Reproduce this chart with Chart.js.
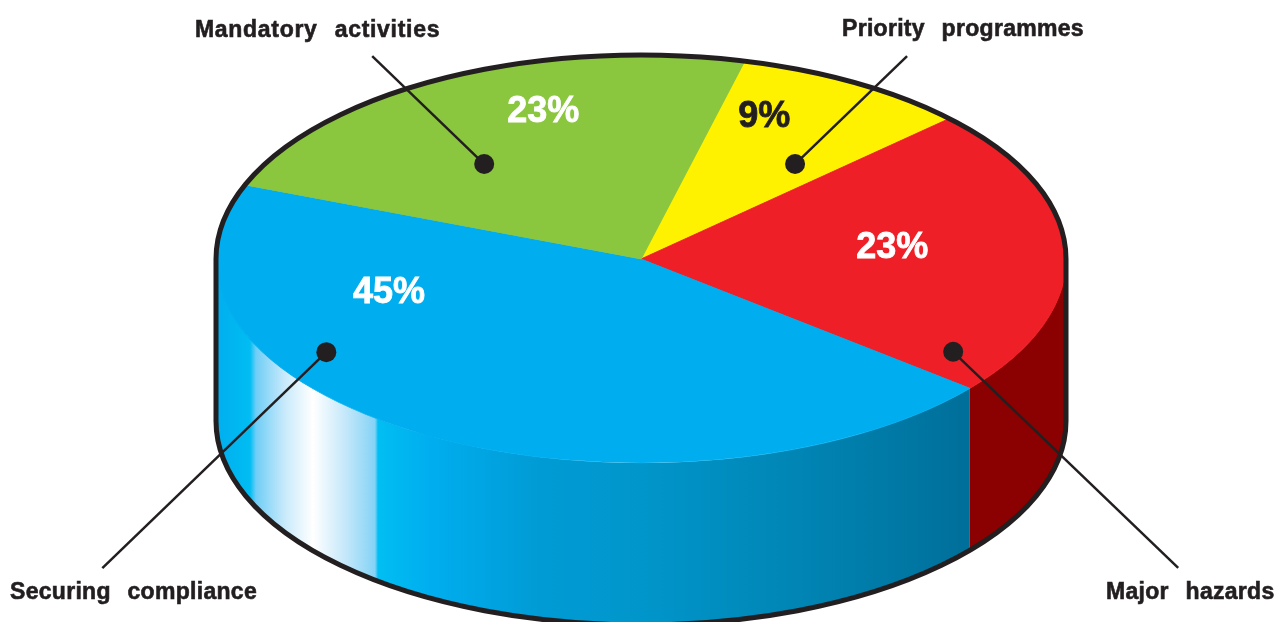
<!DOCTYPE html>
<html lang="en">
<head>
    <meta charset="UTF-8">
    <title>Pie chart</title>
    <script src="https://cdn.jsdelivr.net/npm/chart.js"></script>
    <style>
        html, body { margin: 0; padding: 0; background: #fff; overflow: hidden; }
        canvas { display: block; }
    </style>
</head>
<body>
    <canvas id="pieChart" width="1276" height="622"></canvas>

    <script>
// slices run clockwise, starting from the green/yellow edge
const categories = ['Priority programmes', 'Major hazards', 'Securing compliance', 'Mandatory activities'];
const shares = [9, 23, 45, 23];

const topColours = ['#FFF200', '#EE1F27', '#00AEEF', '#8BC63F'];
const percentColours = ['#231F20', '#FFFFFF', '#FFFFFF', '#FFFFFF'];

// where the drum sits on the page
const drum = { cx: 641, cy: 259, rx: 425, ry: 204, depth: 162, rotation: 14.1 };
const ink = '#231F20';

// t = how far along the slice, r = fraction of the radius
const percentSpots = [{ t: 0.25, r: 0.767 }, { t: 0.446, r: 0.595 }, { t: 0.78, r: 0.612 }, { t: 0.62, r: 0.77 }];
const dotSpots = [{ t: 0.735, r: 0.59 }, { t: 0.909, r: 0.864 }, { t: 0.673, r: 0.87 }, { t: 0.366, r: 0.594 }];
// leader end, relative to the dot
const leaderEnds = [[112, -108], [225, 216], [-224, 216], [-112, -108]];
// label left edge and baseline
const labelSpots = [[842, 36], [1106, 599], [10, 599], [195, 37]];
// the original type is a bit wider than Liberation, Mandatory most of all
const labelTracking = ['0.3px', '0.3px', '0.3px', '0.7px'];

// blue wall shading, x on the page and colour
const blueWallStops = [
    [216, '#00AEEF'], [250, '#00BDF2'], [256, '#6FCEF6'], [285, '#C9EAFB'], [313, '#FFFFFF'],
    [345, '#C5E8FA'], [375, '#84D3F6'], [378, '#00BEF2'], [430, '#00AEEF'], [540, '#009BD5'],
    [640, '#0096CB'], [800, '#0085B4'], [968, '#006F9A']
];
const redWall = '#8B0000';

function slicePoint(arc, spot) {
    const a = arc.startAngle + spot.t * (arc.endAngle - arc.startAngle);
    return {
        x: drum.cx + drum.rx * spot.r * Math.cos(a),
        y: drum.cy + drum.ry * spot.r * Math.sin(a)
    };
}

function wallFill(ctx) {
    const x0 = blueWallStops[0][0];
    const x1 = blueWallStops[blueWallStops.length - 1][0];
    const g = ctx.createLinearGradient(x0, 0, x1, 0);
    blueWallStops.forEach(s => g.addColorStop((s[0] - x0) / (x1 - x0), s[1]));
    return g;
}

const drumPlugin = {
    id: 'drum',
    beforeDatasetsDraw(chart) {
        const ctx = chart.ctx;
        const arcs = chart.getDatasetMeta(0).data;

        // side wall of every slice that faces the viewer
        arcs.forEach((arc, i) => {
            const a0 = Math.max(arc.startAngle, 0);
            const a1 = Math.min(arc.endAngle, Math.PI);
            if (a1 <= a0) return;
            ctx.beginPath();
            ctx.ellipse(drum.cx, drum.cy, drum.rx, drum.ry, 0, a0, a1);
            ctx.ellipse(drum.cx, drum.cy + drum.depth, drum.rx, drum.ry, 0, a1, a0, true);
            ctx.closePath();
            ctx.fillStyle = i === 2 ? wallFill(ctx) : redWall;
            ctx.fill();
        });

        // squash the round pie into the drum top
        const arc = arcs[0];
        ctx.save();
        ctx.translate(drum.cx, drum.cy);
        ctx.scale(drum.rx / arc.outerRadius, drum.ry / arc.outerRadius);
        ctx.translate(-arc.x, -arc.y);
    },
    afterDatasetsDraw(chart) {
        const ctx = chart.ctx;
        ctx.restore();

        const arcs = chart.getDatasetMeta(0).data;

        // outline, the front edge of the top stays open
        ctx.strokeStyle = ink;
        ctx.lineWidth = 5;
        ctx.beginPath();
        ctx.ellipse(drum.cx, drum.cy, drum.rx, drum.ry, 0, Math.PI, 2 * Math.PI);
        ctx.lineTo(drum.cx + drum.rx, drum.cy + drum.depth);
        ctx.ellipse(drum.cx, drum.cy + drum.depth, drum.rx, drum.ry, 0, 0, Math.PI);
        ctx.closePath();
        ctx.stroke();

        // leaders and dots
        arcs.forEach((arc, i) => {
            const p = slicePoint(arc, dotSpots[i]);
            ctx.strokeStyle = ink;
            ctx.lineWidth = 2.5;
            ctx.beginPath();
            ctx.moveTo(p.x, p.y);
            ctx.lineTo(p.x + leaderEnds[i][0], p.y + leaderEnds[i][1]);
            ctx.stroke();
            ctx.fillStyle = ink;
            ctx.beginPath();
            ctx.arc(p.x, p.y, 10, 0, 2 * Math.PI);
            ctx.fill();
        });

        // percent labels
        ctx.font = 'bold 36px "Liberation Sans"';
        ctx.textAlign = 'center';
        ctx.textBaseline = 'middle';
        ctx.lineWidth = 0.8;
        arcs.forEach((arc, i) => {
            const p = slicePoint(arc, percentSpots[i]);
            ctx.fillStyle = percentColours[i];
            ctx.strokeStyle = percentColours[i];
            ctx.fillText(shares[i] + '%', p.x, p.y + 3);
            ctx.strokeText(shares[i] + '%', p.x, p.y + 3);
        });

        // category labels
        ctx.font = 'bold 23px "Liberation Sans"';
        ctx.textAlign = 'left';
        ctx.textBaseline = 'alphabetic';
        ctx.wordSpacing = '10px';
        ctx.fillStyle = ink;
        ctx.strokeStyle = ink;
        ctx.lineWidth = 0.6;
        categories.forEach((name, i) => {
            ctx.letterSpacing = labelTracking[i];
            ctx.fillText(name, labelSpots[i][0], labelSpots[i][1]);
            ctx.strokeText(name, labelSpots[i][0], labelSpots[i][1]);
        });
        ctx.wordSpacing = '0px';
        ctx.letterSpacing = '0px';
    }
};

new Chart(document.getElementById('pieChart').getContext('2d'), {
    type: 'pie',
    data: {
        labels: categories,
        datasets: [{
            data: shares,
            backgroundColor: topColours,
            borderColor: topColours,
            borderWidth: 1
        }]
    },
    options: {
        responsive: false,
        animation: false,
        rotation: drum.rotation,
        layout: { padding: 0 },
        plugins: {
            legend: { display: false },
            tooltip: { enabled: false }
        }
    },
    plugins: [drumPlugin]
});
    </script>
</body>
</html>
